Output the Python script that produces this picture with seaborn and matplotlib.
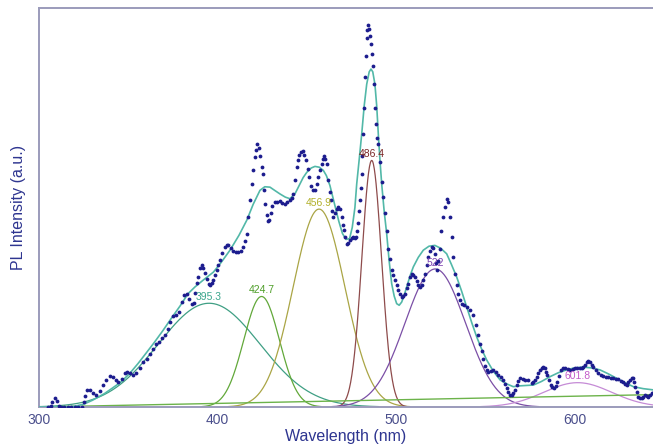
import numpy as np
import pandas as pd
import matplotlib
matplotlib.use("Agg")
import matplotlib.pyplot as plt
import seaborn as sns

# ---------------- data ----------------
# measured PL spectrum (wavelength nm, intensity a.u.)
data_wl = [305.0, 306.5, 307.5, 308.8, 310.0, 311.2, 312.5, 314.0, 316.0, 318.0, 320.0, 322.0, 324.0,
           325.0, 325.8, 327.0, 328.5, 330.4, 332.2, 334.2, 336.0, 337.8, 339.6, 341.5, 343.0, 344.3,
           346.3, 348.2, 349.5, 351.0, 352.7, 354.5, 356.6, 358.5, 360.3, 362.0, 363.8, 365.5, 367.2,
           368.8, 370.4, 372.0, 373.6, 375.3, 377.0, 378.6, 379.9, 381.3, 382.7, 384.0, 385.5, 386.6,
           387.6, 388.5, 389.3, 390.2, 391.1, 392.0, 393.0, 393.9, 395.0, 395.8, 396.8, 397.7, 398.6,
           399.5, 400.5, 401.4, 402.8, 404.2, 405.1, 406.0, 407.4, 408.8, 410.2, 411.6, 413.0, 414.5,
           415.5, 416.4, 417.3, 418.2, 419.1, 420.1, 421.0, 421.7, 422.3, 423.0, 423.8, 424.7, 425.3,
           426.0, 426.7, 427.5, 428.2, 429.0, 429.8, 430.8, 432.2, 433.6, 435.0, 436.4, 437.8, 439.2,
           440.6, 441.6, 442.5, 443.4, 444.4, 445.1, 445.8, 446.8, 447.7, 448.7, 449.6, 450.5, 451.4,
           452.4, 453.3, 454.6, 455.6, 456.5, 457.5, 458.4, 459.1, 459.7, 460.4, 461.2, 462.1, 462.8,
           463.4, 464.2, 464.9, 465.8, 466.8, 467.7, 468.6, 469.6, 470.3, 470.9, 471.7, 472.4, 473.3,
           474.2, 475.1, 476.1, 476.8, 477.6, 478.3, 478.9, 479.4, 479.8, 480.3, 480.8, 481.2, 481.7,
           482.1, 482.6, 483.0, 483.5, 484.0, 484.5, 485.0, 485.5, 486.0, 486.5, 487.0, 487.7, 488.2,
           488.7, 489.2, 490.1, 491.0, 492.0, 492.9, 493.8, 494.8, 495.7, 496.6, 497.6, 498.5, 499.4,
           500.4, 501.3, 502.3, 503.2, 504.1, 505.0, 506.0, 506.9, 507.8, 508.8, 509.7, 510.6, 511.6,
           512.5, 513.5, 514.4, 515.3, 516.2, 517.2, 518.1, 519.0, 520.0, 520.9, 521.8, 522.5, 523.1,
           523.8, 524.6, 525.5, 526.5, 527.5, 528.4, 529.4, 530.3, 531.2, 532.1, 533.1, 534.0, 534.9,
           535.9, 536.8, 538.2, 539.6, 541.5, 543.3, 544.7, 546.1, 547.1, 548.0, 548.9, 549.9, 550.8,
           551.7, 553.1, 554.5, 555.9, 557.3, 558.7, 560.1, 561.0, 562.0, 562.9, 563.9, 564.8, 565.7,
           566.6, 567.6, 568.5, 569.5, 570.9, 572.3, 574.1, 576.0, 577.0, 577.9, 578.8, 579.7, 580.6,
           581.6, 582.5, 583.5, 584.2, 584.8, 585.7, 586.6, 587.5, 588.5, 589.4, 590.4, 591.3, 592.3,
           593.5, 594.7, 596.1, 597.5, 598.9, 600.3, 601.7, 603.1, 604.0, 604.9, 605.8, 606.8, 607.7,
           608.7, 609.6, 610.5, 611.9, 613.3, 614.7, 616.1, 617.5, 618.9, 620.3, 621.7, 623.1, 624.5,
           625.9, 627.3, 628.3, 629.2, 630.1, 631.1, 632.0, 632.6, 633.3, 633.9, 634.8, 635.7, 636.6,
           637.6, 638.5, 639.5, 640.4, 641.3, 642.2, 643.2, 644.0]
data_pl = [0.00, 0.02, 0.12, 0.22, 0.15, 0.03, 0.00, -0.01, 0.00, 0.00, 0.00, 0.00, 0.00,
           0.12, 0.27, 0.42, 0.43, 0.35, 0.30, 0.40, 0.55, 0.68, 0.78, 0.76, 0.68, 0.63,
           0.70, 0.85, 0.88, 0.86, 0.80, 0.86, 0.98, 1.12, 1.20, 1.32, 1.46, 1.58, 1.64,
           1.72, 1.80, 1.95, 2.12, 2.27, 2.31, 2.38, 2.62, 2.80, 2.84, 2.70, 2.59, 2.60,
           2.85, 3.10, 3.25, 3.48, 3.55, 3.48, 3.35, 3.22, 3.08, 3.05, 3.10, 3.18, 3.30,
           3.43, 3.56, 3.68, 3.86, 4.01, 4.06, 4.05, 3.98, 3.92, 3.88, 3.88, 3.92, 4.01,
           4.15, 4.34, 4.76, 5.18, 5.59, 5.93, 6.26, 6.45, 6.58, 6.50, 6.30, 6.02, 5.84,
           5.43, 5.10, 4.80, 4.65, 4.68, 4.85, 5.05, 5.15, 5.15, 5.16, 5.12, 5.10, 5.14,
           5.18, 5.24, 5.34, 5.68, 6.01, 6.20, 6.32, 6.40, 6.42, 6.32, 6.18, 5.96, 5.76,
           5.55, 5.43, 5.43, 5.58, 5.76, 5.95, 6.09, 6.22, 6.30, 6.22, 6.09, 5.68, 5.40,
           5.18, 4.90, 4.76, 4.85, 4.97, 5.01, 4.95, 4.76, 4.55, 4.43, 4.25, 4.09, 4.12,
           4.18, 4.24, 4.26, 4.24, 4.25, 4.40, 4.60, 4.90, 5.18, 5.50, 5.84, 6.30, 6.84,
           7.50, 8.26, 8.80, 9.25, 9.45, 9.58, 9.48, 9.30, 9.10, 8.85, 8.55, 8.09, 7.50,
           7.10, 6.75, 6.60, 6.15, 5.65, 5.26, 4.85, 4.40, 3.95, 3.70, 3.43, 3.30, 3.18,
           3.05, 2.93, 2.82, 2.76, 2.78, 2.84, 2.98, 3.09, 3.25, 3.34, 3.32, 3.26, 3.15,
           3.05, 3.02, 3.05, 3.18, 3.34, 3.55, 3.76, 3.92, 4.01, 3.98, 3.84, 3.62, 3.43,
           3.65, 3.95, 4.40, 4.76, 5.01, 5.22, 5.13, 4.76, 4.26, 3.76, 3.34, 3.05, 2.84,
           2.68, 2.59, 2.55, 2.51, 2.42, 2.30, 2.05, 1.80, 1.58, 1.40, 1.20, 1.02, 0.92,
           0.88, 0.90, 0.93, 0.87, 0.80, 0.74, 0.68, 0.58, 0.47, 0.38, 0.30, 0.30, 0.34,
           0.43, 0.55, 0.64, 0.72, 0.70, 0.68, 0.68, 0.59, 0.62, 0.68, 0.76, 0.84, 0.92,
           0.97, 0.99, 0.97, 0.88, 0.80, 0.67, 0.55, 0.50, 0.47, 0.52, 0.63, 0.78, 0.93,
           0.97, 0.97, 0.95, 0.93, 0.95, 0.97, 0.98, 0.97, 0.98, 1.00, 1.06, 1.13, 1.15,
           1.13, 1.06, 1.00, 0.92, 0.84, 0.81, 0.78, 0.76, 0.74, 0.73, 0.72, 0.70, 0.69,
           0.66, 0.63, 0.58, 0.55, 0.62, 0.68, 0.72, 0.72, 0.62, 0.51, 0.38, 0.26, 0.23,
           0.22, 0.26, 0.30, 0.28, 0.26, 0.30, 0.34, 0.36]

# cumulative fit curve
fit_wl = [300, 310, 315, 320, 325, 330, 336.8, 341, 346, 351, 355.5, 360, 364.8, 369.5, 374.1, 379,
          383.5, 387.4, 392, 397.7, 402, 407, 412, 416.4, 420, 423.8, 426.5, 429.4, 432, 435, 438,
          440.6, 443.5, 446.2, 448, 450, 452.5, 454.6, 457, 459.3, 461, 463, 465.5, 468, 470, 472,
          474, 475.5, 477, 478, 479.5, 480.8, 482.2, 483.6, 485, 486, 487, 488.2, 489.2, 490.1, 491,
          492, 493.4, 494.8, 496.2, 497.6, 499, 500.4, 501.8, 503.2, 504.6, 506, 508, 509.7, 512.5,
          515.3, 518.5, 521.8, 525, 528.4, 531, 534, 536.8, 539.6, 542.4, 545.2, 548, 550.8, 554.5,
          558.3, 562, 565.7, 569.5, 573, 577, 581.5, 586.3, 591, 595.6, 600, 604.9, 609.5, 614.3,
          619, 623.6, 628.3, 633, 638.5, 644]
fit_pl = [0.0, 0.0, 0.0, 0.02, 0.07, 0.17, 0.34, 0.47, 0.63, 0.85, 1.09, 1.35, 1.63, 1.92, 2.22, 2.53,
          2.84, 3.01, 3.18, 3.38, 3.62, 3.93, 4.30, 4.68, 5.08, 5.43, 5.52, 5.51, 5.43, 5.34, 5.26,
          5.22, 5.35, 5.59, 5.75, 5.88, 5.99, 6.03, 6.01, 5.93, 5.80, 5.55, 5.10, 4.65, 4.35, 4.20,
          4.22, 4.50, 5.00, 5.59, 6.25, 6.84, 7.55, 8.09, 8.40, 8.47, 8.40, 8.09, 7.55, 6.84, 6.20,
          5.59, 4.90, 4.34, 3.65, 3.09, 2.78, 2.59, 2.55, 2.63, 2.80, 3.01, 3.30, 3.51, 3.75,
          3.93, 4.03, 4.05, 3.98, 3.84, 3.58, 3.26, 2.90, 2.51, 2.12, 1.76, 1.45, 1.18, 0.90,
          0.68, 0.58, 0.51, 0.53, 0.54, 0.55, 0.64, 0.76, 0.86, 0.93, 0.98, 1.00, 0.98, 0.93,
          0.83, 0.72, 0.61, 0.51, 0.46, 0.43]

# fitted peak components
peak_labels = ["395.3", "424.7", "456.9", "486.4", "522", "601.8"]
peak_centers = [395.3, 424.7, 456.9, 486.4, 522.0, 601.8]
peak_heights = [2.60, 2.77, 4.96, 6.18, 3.46, 0.61]
peak_sigmas = [28.5, 10.0, 14.5, 5.5, 17.0, 19.0]
peak_line_colors = ["#3f9f84", "#62a83a", "#aaa545", "#8e4b4b", "#7b4fa6", "#c58bd6"]
peak_text_colors = ["#3aa58c", "#4e9e28", "#b2b02a", "#7a2626", "#7a3fb0", "#c25bc9"]

# linear background
base_wl = [300, 644]
base_pl = [0.0, 0.31]

x_ticks = [300, 400, 500, 600]

# ---------------- drawing ----------------
sns.set_theme(style="white")
plt.rcParams["font.family"] = ["Liberation Sans", "DejaVu Sans"]

fig = plt.figure(figsize=(6.53, 4.48), dpi=100)
ax = fig.add_axes([39 / 653, 41 / 448, 614 / 653, 399 / 448])

grid = np.linspace(300, 644, 1400)
for lab, c, h, s, lc in zip(peak_labels, peak_centers, peak_heights, peak_sigmas, peak_line_colors):
    y = h * np.exp(-0.5 * ((grid - c) / s) ** 2)
    y = np.where(y > 0.01, y, np.nan)
    sns.lineplot(x=grid, y=y, ax=ax, color=lc, lw=0.9, zorder=2)

sns.lineplot(x=base_wl, y=base_pl, ax=ax, color="#6cb34a", lw=1.0, zorder=2)
sns.lineplot(x=fit_wl, y=fit_pl, ax=ax, color="#52b8a8", lw=1.2, zorder=3, sort=False)

sns.scatterplot(x=data_wl, y=data_pl, ax=ax, color="#1c1c8e", s=7.5, linewidth=0, zorder=4)

for lab, c, h, tc in zip(peak_labels, peak_centers, peak_heights, peak_text_colors):
    ax.annotate(lab, xy=(c, h), xytext=(0, 4.5), textcoords="offset points",
                ha="center", va="center", fontsize=7.5, color=tc, zorder=5)

ax.set_xlim(300, 644)
ax.set_ylim(0, 10)
ax.set_xticks(x_ticks)
ax.set_xticks([350, 450, 550], minor=True)
ax.set_yticks(np.arange(0, 11, 1))
ax.set_yticklabels([])
ax.tick_params(axis="x", which="both", length=3, width=1, color="#8f8fb0", direction="out",
               labelsize=10, labelcolor="#4b4f8c", pad=4)
ax.tick_params(axis="x", which="major", length=0)
ax.tick_params(axis="y", length=5, width=1, color="#8f8fb0", direction="out")

for side in ["left", "top", "bottom"]:
    ax.spines[side].set_color("#9b9bbb")
    ax.spines[side].set_linewidth(1.4)
ax.spines["right"].set_visible(False)

ax.set_xlabel("Wavelength (nm)", fontsize=11.5, color="#2e3590", labelpad=2)
ax.set_ylabel("PL Intensity (a.u.)", fontsize=11.5, color="#2e3590", labelpad=1)

fig.savefig("out.png", dpi=100)
